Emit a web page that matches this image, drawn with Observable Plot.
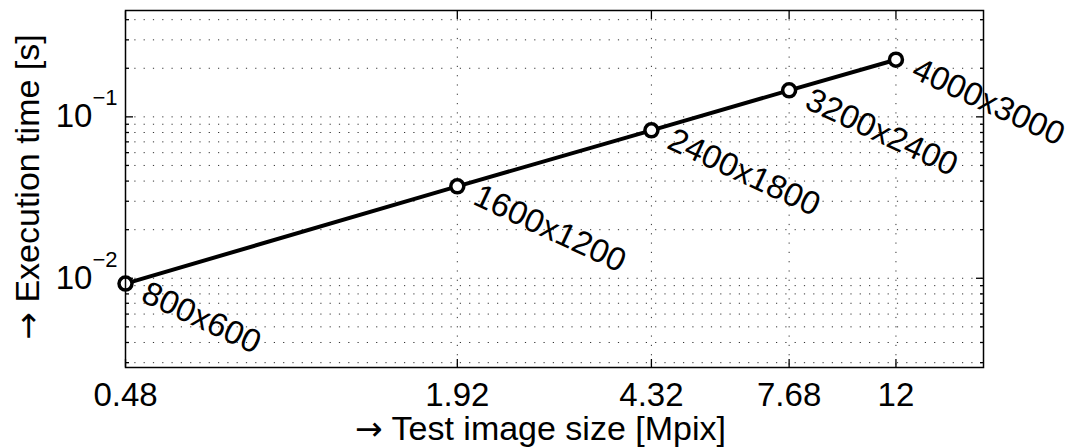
<!DOCTYPE html>
<html><head><meta charset="utf-8">
<script src="https://cdn.jsdelivr.net/npm/d3@7"></script>
<script src="https://cdn.jsdelivr.net/npm/@observablehq/plot@0.6"></script>
<style>
html,body{margin:0;padding:0;background:#fff;}
#chart svg{display:block;}
</style></head><body><div id="chart"></div>
<script>
// ---- data ----
const resolutions = ["800x600", "1600x1200", "2400x1800", "3200x2400", "4000x3000"];
const megapixels = [0.48, 1.92, 4.32, 7.68, 12];
const execTimes = [0.00927, 0.0371, 0.0825, 0.146, 0.226];
const xTicks = [0.48, 1.92, 4.32, 7.68, 12];
const xTickLabels = ["0.48", "1.92", "4.32", "7.68", "12"];
const yMajorTicks = [0.01, 0.1];
const xTitle = "→ Test image size [Mpix]";
const yTitle = "→ Execution time [s]";
const xDomain = [0.48, 17.3];
const yDomain = [0.0028, 0.456];

const data = resolutions.map((r, i) => ({label: r, mpix: megapixels[i], t: execTimes[i]}));
const xTickData = xTicks.map((v, i) => ({v, label: xTickLabels[i]}));
const yAllTicks = d3.scaleLog().domain(yDomain).ticks();
const yMinorTicks = yAllTicks.filter(v => !yMajorTicks.some(m => Math.abs(m - v) / m < 1e-9));

const FONT = "'Liberation Sans', Arial, Helvetica, sans-serif";
const FS = 33;
const FT = 34;
const dotted = {stroke: "#333", strokeOpacity: 1, strokeWidth: 1, strokeDasharray: "1.2,8.1"};

const chart = Plot.plot({
  width: 1070, height: 448,
  marginLeft: 125, marginRight: 87, marginTop: 10, marginBottom: 81,
  style: {fontFamily: FONT, background: "white", color: "black", overflow: "visible"},
  x: {type: "log", domain: xDomain},
  y: {type: "log", domain: yDomain},
  marks: [
    Plot.gridY({ticks: yAllTicks, ...dotted}),
    Plot.gridX({ticks: xTicks, ...dotted}),
    // inward tick marks on all four sides
    Plot.axisY({ticks: yMajorTicks, anchor: "left", tickSize: 8, dx: 8, fill: "none", label: null, strokeWidth: 1.3}),
    Plot.axisY({ticks: yMajorTicks, anchor: "right", tickSize: 8, dx: -8, fill: "none", label: null, strokeWidth: 1.3}),
    Plot.axisY({ticks: yMinorTicks, anchor: "left", tickSize: 4, dx: 4, fill: "none", label: null, strokeWidth: 1.3}),
    Plot.axisY({ticks: yMinorTicks, anchor: "right", tickSize: 4, dx: -4, fill: "none", label: null, strokeWidth: 1.3}),
    Plot.axisX({ticks: xTicks, anchor: "bottom", tickSize: 8, dy: -8, fill: "none", label: null, strokeWidth: 1.3}),
    Plot.axisX({ticks: xTicks, anchor: "top", tickSize: 8, dy: 8, fill: "none", label: null, strokeWidth: 1.3}),
    // tick labels
    Plot.text(xTickData, {x: "v", text: "label", frameAnchor: "bottom", lineAnchor: "top", textAnchor: "middle", dy: 15, fontSize: FS, fill: "black"}),
    Plot.axisY({ticks: yMajorTicks, anchor: "left", tickSize: 0, tickPadding: 8, tickFormat: d => "10^" + Math.round(Math.log10(d)), fontSize: FS, label: null}),
    // data
    Plot.line(data, {x: "mpix", y: "t", stroke: "black", strokeWidth: 4}),
    Plot.dot(data, {x: "mpix", y: "t", r: 6.5, stroke: "black", strokeWidth: 3.5, fill: "white"}),
    Plot.text(data, {x: "mpix", y: "t", text: "label", rotate: 25, textAnchor: "start", lineAnchor: "top", dx: 24, dy: -4, fontSize: FS, fill: "black"}),
    Plot.frame({stroke: "black", strokeWidth: 1.5}),
    // axis titles
    Plot.text([xTitle], {text: d => d, frameAnchor: "bottom", dy: 62, dx: -14, fontSize: FT, textAnchor: "middle", lineAnchor: "middle", fill: "black"}),
    Plot.text([yTitle], {text: d => d, frameAnchor: "left", dx: -97, dy: -2, rotate: -90, fontSize: FT, textAnchor: "middle", lineAnchor: "middle", fill: "black"})
  ]
});

const NS = "http://www.w3.org/2000/svg";
// superscript exponents on the y tick labels
chart.querySelectorAll('g[aria-label="y-axis tick label"] text').forEach(t => {
  const [base, exp] = t.textContent.split("^");
  t.textContent = "";
  const b = document.createElementNS(NS, "tspan");
  b.textContent = base;
  const e = document.createElementNS(NS, "tspan");
  e.textContent = exp.replace("-", "\u2212");
  e.setAttribute("dy", "-22");
  e.setAttribute("font-size", "22");
  t.append(b, e);
});
// full-size arrow glyph in the axis titles
chart.querySelectorAll("text").forEach(t => {
  if (t.children.length === 0 && t.textContent.startsWith("→")) {
    const rest = t.textContent.slice(1);
    t.textContent = "";
    const a = document.createElementNS(NS, "tspan");
    a.textContent = "→";
    a.setAttribute("font-family", "DejaVu Sans");
    a.setAttribute("font-size", "33");
    const r = document.createElementNS(NS, "tspan");
    r.textContent = rest;
    t.append(a, r);
  }
});

document.getElementById("chart").append(chart);
</script></body></html>
